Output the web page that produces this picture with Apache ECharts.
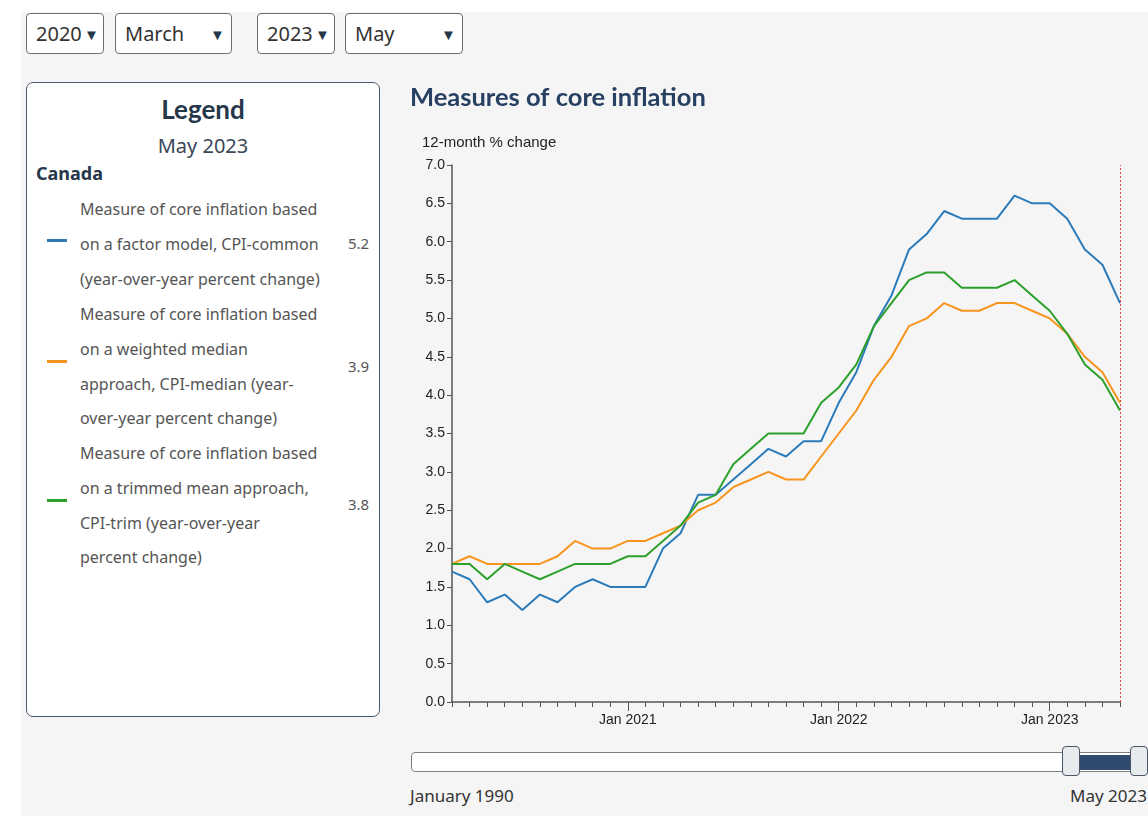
<!DOCTYPE html>
<html>
<head>
<meta charset="utf-8">
<script src="https://cdn.jsdelivr.net/npm/echarts@6/dist/echarts.min.js"></script>
<style>
  html, body { margin:0; padding:0; width:1148px; height:816px; overflow:hidden; background:#ffffff; }
  #page { position:absolute; left:21px; top:12px; width:1127px; height:804px; background:#f5f5f5; }
  .sel { position:absolute; top:13px; height:41px; box-sizing:border-box; border:1px solid #6f6f6f; border-radius:4px; background:#fff;
         font-family:"Noto Sans", sans-serif; font-size:20px; color:#333; line-height:40px; padding-left:9px; }
  .sel .arr { position:absolute; font-size:15px; color:#26374a; top:0; }
  #legend { position:absolute; left:26px; top:82px; width:354px; height:635px; box-sizing:border-box; border:1px solid #4a5a6e; border-radius:7px; background:#fff; }
  .lg-title { position:absolute; left:0; width:100%; text-align:center; font-family:Lato, sans-serif; font-weight:bold; font-size:26px; color:#26374a; top:10px; }
  .lg-date { position:absolute; left:0; width:100%; text-align:center; font-family:"Noto Sans", sans-serif; font-size:20px; color:#3a4756; top:49px; }
  .lg-country { position:absolute; left:9px; font-family:"Noto Sans", sans-serif; font-weight:bold; font-size:18px; color:#26374a; top:78px; }
  .item { position:absolute; left:53px; font-family:"Noto Sans", sans-serif; font-size:16px; line-height:34.8px; color:#555; }
  .mark { position:absolute; left:20px; width:20px; height:3px; }
  .val { position:absolute; left:321px; font-family:"Noto Sans", sans-serif; font-size:15px; color:#555; }
  #slider { position:absolute; left:411px; top:752px; width:760px; height:20px; box-sizing:border-box; border:1px solid #7a7f86; border-radius:4px; background:#fff; }
  #fill { position:absolute; left:1079px; top:755px; width:54px; height:15px; background:#2f4a6e; }
  .handle { position:absolute; top:746px; width:18px; height:30px; box-sizing:border-box; border:1px solid #4a5566; border-radius:4px; background:#e8ebee; }
  .slbl { position:absolute; top:784px; font-family:"Noto Sans", sans-serif; font-size:17px; color:#333; }
  #chart { position:absolute; left:0; top:0; width:1148px; height:816px; }
</style>
</head>
<body>
<div id="page"></div>
<div class="sel" style="left:26px;width:78px;">2020<span class="arr" style="left:57px;">&#9660;</span></div>
<div class="sel" style="left:115px;width:117px;">March<span class="arr" style="left:94px;">&#9660;</span></div>
<div class="sel" style="left:257px;width:78px;">2023<span class="arr" style="left:57px;">&#9660;</span></div>
<div class="sel" style="left:345px;width:118px;">May<span class="arr" style="left:95px;">&#9660;</span></div>

<div id="legend">
  <div class="lg-title">Legend</div>
  <div class="lg-date">May 2023</div>
  <div class="lg-country">Canada</div>
  <div class="mark" style="top:156px;background:#2b7bba;"></div>
  <div class="item" style="top:109px;">Measure of core inflation based<br>on a factor model, CPI-common<br>(year-over-year percent change)</div>
  <div class="val" style="top:150px;">5.2</div>
  <div class="mark" style="top:277px;background:#f7941d;"></div>
  <div class="item" style="top:214px;">Measure of core inflation based<br>on a weighted median<br>approach, CPI-median (year-<br>over-year percent change)</div>
  <div class="val" style="top:273px;">3.9</div>
  <div class="mark" style="top:416px;background:#2ca02c;"></div>
  <div class="item" style="top:353px;">Measure of core inflation based<br>on a trimmed mean approach,<br>CPI-trim (year-over-year<br>percent change)</div>
  <div class="val" style="top:411px;">3.8</div>
</div>

<div id="slider"></div>
<div id="fill"></div>
<div class="handle" style="left:1062px;"></div>
<div class="handle" style="left:1130px;"></div>
<div class="slbl" style="left:410px;">January 1990</div>
<div class="slbl" style="left:1070px;">May 2023</div>

<div id="chart"></div>
<script>
const months = [
  '2020-03','2020-04','2020-05','2020-06','2020-07','2020-08','2020-09','2020-10','2020-11','2020-12',
  '2021-01','2021-02','2021-03','2021-04','2021-05','2021-06','2021-07','2021-08','2021-09','2021-10','2021-11','2021-12',
  '2022-01','2022-02','2022-03','2022-04','2022-05','2022-06','2022-07','2022-08','2022-09','2022-10','2022-11','2022-12',
  '2023-01','2023-02','2023-03','2023-04','2023-05'
];
const cpiCommon = [
  1.7,1.6,1.3,1.4,1.2,1.4,1.3,1.5,1.6,1.5,
  1.5,1.5,2.0,2.2,2.7,2.7,2.9,3.1,3.3,3.2,3.4,3.4,
  3.9,4.3,4.9,5.3,5.9,6.1,6.4,6.3,6.3,6.3,6.6,6.5,
  6.5,6.3,5.9,5.7,5.2
];
const cpiMedian = [
  1.8,1.9,1.8,1.8,1.8,1.8,1.9,2.1,2.0,2.0,
  2.1,2.1,2.2,2.3,2.5,2.6,2.8,2.9,3.0,2.9,2.9,3.2,
  3.5,3.8,4.2,4.5,4.9,5.0,5.2,5.1,5.1,5.2,5.2,5.1,
  5.0,4.8,4.5,4.3,3.9
];
const cpiTrim = [
  1.8,1.8,1.6,1.8,1.7,1.6,1.7,1.8,1.8,1.8,
  1.9,1.9,2.1,2.3,2.6,2.7,3.1,3.3,3.5,3.5,3.5,3.9,
  4.1,4.4,4.9,5.2,5.5,5.6,5.6,5.4,5.4,5.4,5.5,5.3,
  5.1,4.8,4.4,4.2,3.8
];
const selectedMonth = '2023-05';

const chart = echarts.init(document.getElementById('chart'), null, {renderer:'canvas'});
const isJan = (i, v) => String(v).slice(5) === '01';
const axisFont = 'Liberation Sans, Arial, sans-serif';
chart.setOption({
  animation: false,
  title: [
    { text: 'Measures of core inflation', left: 410, top: 85, padding: 0,
      textStyle: { fontFamily: 'Lato, sans-serif', fontWeight: 'bold', fontSize: 25.5, color: '#284162' } },
    { text: '12-month % change', left: 422, top: 135, padding: 0,
      textStyle: { fontFamily: axisFont, fontWeight: 'normal', fontSize: 15, color: '#222' } }
  ],
  grid: { left: 452, right: 28, top: 165, bottom: 114, containLabel: false },
  xAxis: [
    { type: 'category', data: months, boundaryGap: false, position: 'bottom',
      axisLine: { show: true, lineStyle: { color: '#555', width: 1.5 } },
      axisTick: { show: true, interval: 0, length: 5, lineStyle: { color: '#555' } },
      axisLabel: { interval: isJan, formatter: v => 'Jan ' + v.slice(0,4), fontFamily: axisFont, fontSize: 14, color: '#222', margin: 11 },
      splitLine: { show: false } },
    { type: 'category', data: months, boundaryGap: false, position: 'bottom', gridIndex: 0,
      axisLine: { show: false },
      axisTick: { show: true, interval: isJan, length: 9, lineStyle: { color: '#555' } },
      axisLabel: { show: false }, splitLine: { show: false } }
  ],
  yAxis: {
    type: 'value', min: 0, max: 7, interval: 0.5,
    axisLine: { show: true, lineStyle: { color: '#555', width: 1.5 } },
    axisTick: { show: true, length: 5, lineStyle: { color: '#555' } },
    axisLabel: { formatter: v => v.toFixed(1), fontFamily: axisFont, fontSize: 14, color: '#222', margin: 7 },
    splitLine: { show: false }
  },
  series: [
    { name: 'CPI-common', type: 'line', data: cpiCommon, symbol: 'none', lineStyle: { color: '#2b7bba', width: 2 }, itemStyle: { color: '#2b7bba' },
      markLine: { silent: true, symbol: 'none', label: { show: false },
        lineStyle: { color: '#e8443a', type: [2, 2], width: 1 }, data: [{ xAxis: selectedMonth }] } },
    { name: 'CPI-median', type: 'line', data: cpiMedian, symbol: 'none', lineStyle: { color: '#f7941d', width: 2 }, itemStyle: { color: '#f7941d' } },
    { name: 'CPI-trim', type: 'line', data: cpiTrim, symbol: 'none', lineStyle: { color: '#2ca02c', width: 2 }, itemStyle: { color: '#2ca02c' } }
  ]
});
</script>
</body>
</html>
